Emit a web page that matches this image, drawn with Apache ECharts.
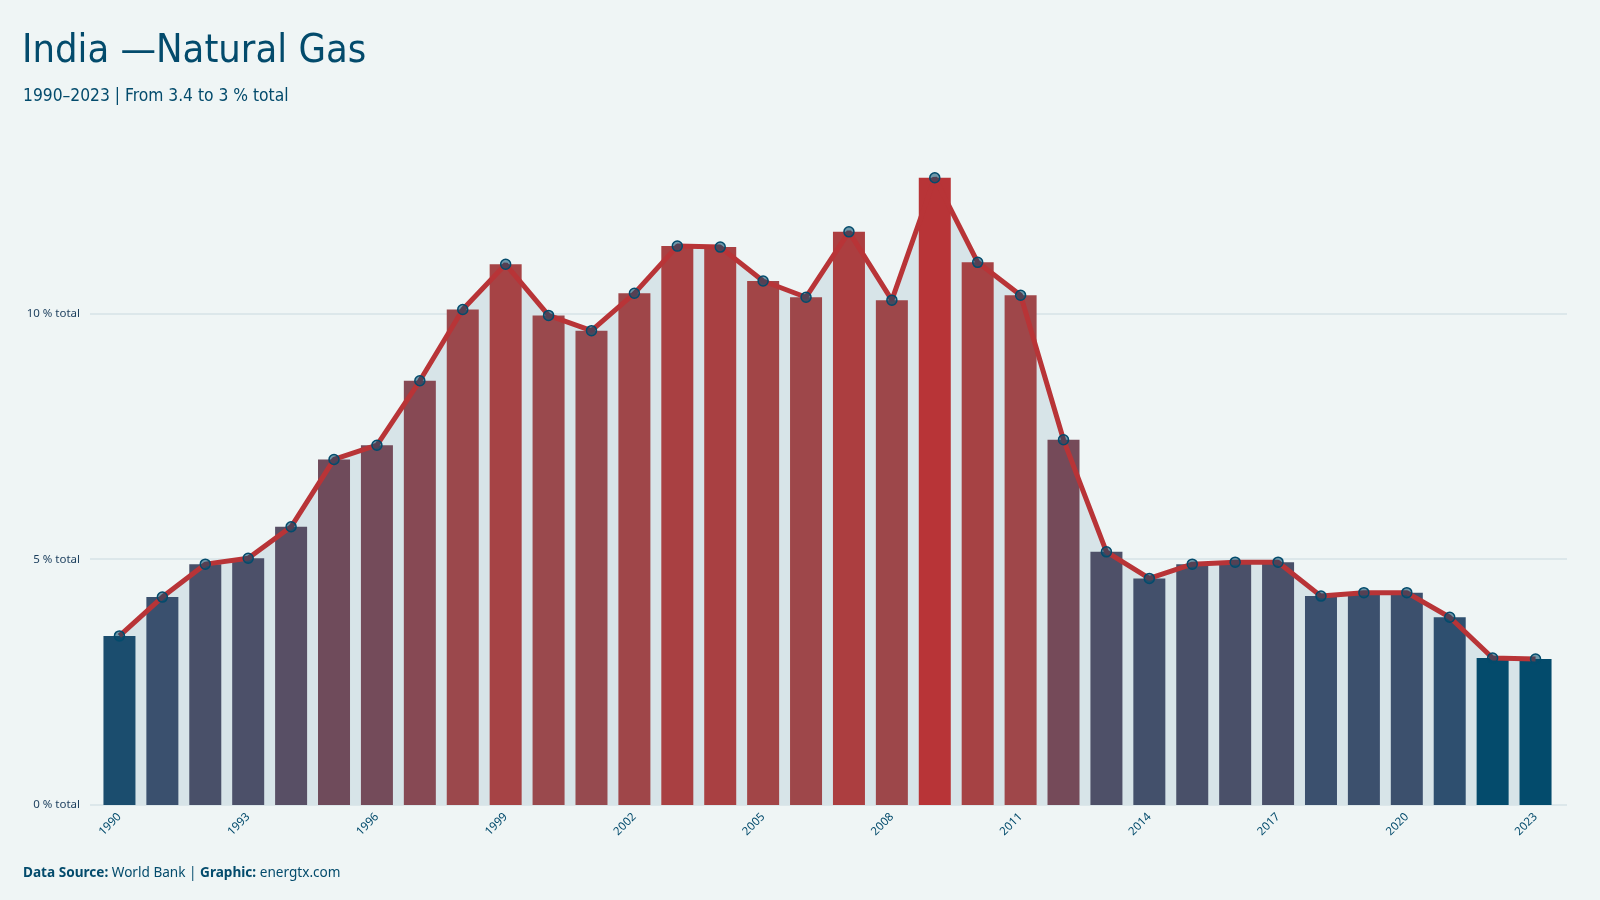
<!DOCTYPE html>
<html>
<head>
<meta charset="utf-8">
<script src="https://cdn.jsdelivr.net/npm/echarts@6/dist/echarts.min.js"></script>
<style>
  html, body { margin: 0; padding: 0; background: #eff5f5; }
  #chart { width: 1600px; height: 900px; }
</style>
</head>
<body>
<div id="chart"></div>
<script>
// years and share of natural gas (% of total)
const years = ['1990', '1991', '1992', '1993', '1994', '1995', '1996', '1997', '1998', '1999',
  '2000', '2001', '2002', '2003', '2004', '2005', '2006', '2007', '2008', '2009',
  '2010', '2011', '2012', '2013', '2014', '2015', '2016', '2017', '2018', '2019',
  '2020', '2021', '2022', '2023'];
const shares = [3.44, 4.23, 4.90, 5.02, 5.66, 7.03, 7.32, 8.63, 10.08, 11.0,
  9.96, 9.65, 10.41, 11.37, 11.35, 10.66, 10.33, 11.66, 10.27, 12.76,
  11.04, 10.37, 7.43, 5.15, 4.61, 4.90, 4.94, 4.94, 4.25, 4.32,
  4.32, 3.82, 2.99, 2.97];
const yTicks = [0, 5, 10];

const blue = '#034b6c';
const red = '#b83437';
// blue -> red ramp, evenly spaced from lowest to highest share
const ramp = ['#034b6c', '#345070', '#4a5069', '#5d4e64', '#6d4b5c', '#7c4a57',
  '#8a4953', '#984a4e', '#a44446', '#ad3d3f', '#b83437'];
const condensed = '"Liberation Sans Narrow", "DejaVu Sans Condensed", "Noto Sans", sans-serif';
const font = '"Noto Sans", "Open Sans", sans-serif';

const chart = echarts.init(document.getElementById('chart'));

const option = {
  backgroundColor: '#eff5f5',
  animation: false,
  title: [
    {
      text: 'India —Natural Gas',
      left: 17,
      top: 27,
      textStyle: { fontFamily: condensed, fontSize: 39.5, fontWeight: 'normal', color: blue },
    },
    {
      text: '1990–2023 | From 3.4 to 3 % total',
      left: 18,
      top: 83,
      textStyle: { fontFamily: condensed, fontSize: 17.3, fontWeight: 'normal', color: blue },
    },
    {
      text: '{b|Data Source:} World Bank | {b|Graphic:} energtx.com',
      left: 18,
      top: 861,
      textStyle: {
        fontFamily: font, fontSize: 13.6, fontWeight: 'normal', color: blue,
        rich: { b: { fontFamily: font, fontSize: 13.6, fontWeight: 'bold', color: blue } },
      },
    },
  ],
  visualMap: {
    show: false,
    type: 'continuous',
    seriesIndex: 1,
    min: Math.min(...shares),
    max: Math.max(...shares),
    inRange: { color: ramp },
  },
  grid: [
    { left: 98, right: 43, top: 166, bottom: 95 },
    { left: 90, right: 33, top: 166, bottom: 95 },
  ],
  xAxis: [
    {
      type: 'category',
      gridIndex: 0,
      data: years,
      axisLine: { show: false },
      axisTick: { show: false },
      axisLabel: {
        interval: 2,
        rotate: 45,
        margin: 10,
        fontFamily: font,
        fontSize: 11.5,
        color: blue,
      },
    },
    { type: 'category', gridIndex: 1, data: years, show: false },
  ],
  yAxis: [
    {
      type: 'value',
      gridIndex: 0,
      min: 0,
      max: 13,
      interval: 5,
      axisLabel: { show: false },
      axisLine: { show: false },
      axisTick: { show: false },
      splitLine: { show: false },
    },
    {
      type: 'value',
      gridIndex: 1,
      min: 0,
      max: 13,
      interval: 5,
      axisLine: { show: false },
      axisTick: { show: false },
      axisLabel: {
        showMaxLabel: false,
        margin: 10,
        fontFamily: font,
        fontSize: 11.5,
        color: '#1a3d5c',
        formatter: (v) => (yTicks.includes(v) ? v + ' % total' : ''),
      },
      splitLine: { showMaxLine: false, lineStyle: { color: '#d6e2e6', width: 1.5 } },
    },
  ],
  series: [
    {
      // shaded area under the line, behind the bars
      type: 'line',
      data: shares,
      symbol: 'none',
      lineStyle: { width: 0 },
      areaStyle: { color: '#d7e4e8', opacity: 1 },
      z: 1,
      silent: true,
    },
    {
      type: 'bar',
      data: shares,
      barWidth: 32,
      z: 2,
    },
    {
      type: 'line',
      data: shares,
      symbol: 'circle',
      symbolSize: 10,
      lineStyle: { color: red, width: 5 },
      itemStyle: { color: 'rgba(3, 75, 108, 0.55)', borderColor: blue, borderWidth: 1.5 },
      z: 3,
    },
  ],
};

chart.setOption(option);
</script>
</body>
</html>
